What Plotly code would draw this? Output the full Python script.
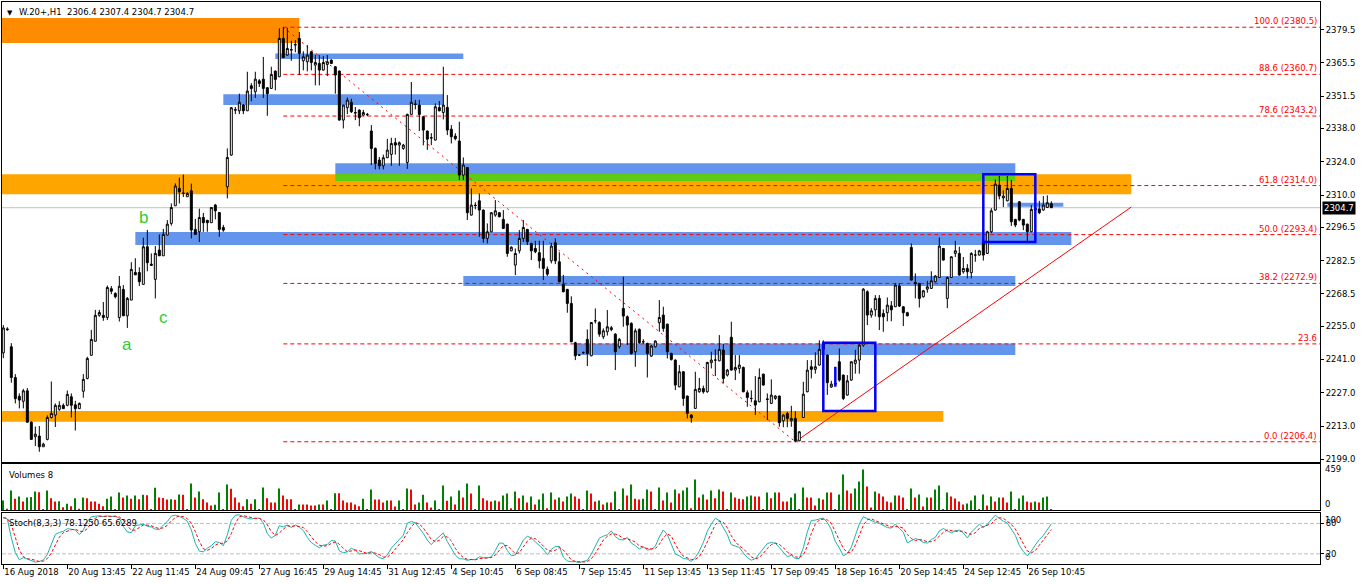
import plotly.graph_objects as go

# W.20+ H1 candles, bar 0 = 16 Aug 2018 15:45, one bar per hour 8:45-16:45
opens = [
    2243.7, 2253.8, 2246.3, 2233.4, 2225.5, 2223.4, 2227.8, 2214.6, 2208.5, 2208.8,
    2204.3, 2207.4, 2216.6, 2217.6, 2220.0, 2221.7, 2221.7, 2225.3, 2221.9, 2220.3,
    2227.6, 2233.0, 2242.7, 2248.6, 2259.5, 2259.5, 2258.6, 2270.7, 2268.7, 2258.6,
    2270.4, 2259.3, 2265.9, 2277.5, 2277.5, 2272.5, 2288.3, 2281.0, 2274.6, 2286.9,
    2284.5, 2293.2, 2298.1, 2305.5, 2312.8, 2310.9, 2309.3, 2311.8, 2295.6, 2294.6,
    2300.6, 2299.4, 2298.4, 2305.8, 2302.7, 2296.4, 2313.5, 2326.8, 2345.9, 2345.4,
    2347.8, 2345.4, 2355.9, 2353.4, 2358.0, 2358.7, 2355.1, 2354.8, 2362.1, 2359.7,
    2375.8, 2368.8, 2370.9, 2373.0, 2375.8, 2366.4, 2366.0, 2370.2, 2364.6, 2365.3,
    2362.5, 2364.9, 2366.7, 2363.9, 2362.1, 2341.5, 2346.7, 2349.0, 2344.7, 2345.7,
    2343.6, 2343.9, 2336.9, 2329.6, 2324.7, 2322.3, 2325.7, 2327.1, 2332.0, 2331.0,
    2329.6, 2323.7, 2343.9, 2348.3, 2347.8, 2342.9, 2336.9, 2334.1, 2333.1, 2346.8,
    2344.7, 2346.8, 2337.7, 2334.8, 2332.7, 2318.4, 2321.6, 2301.6, 2305.8, 2307.6,
    2303.7, 2291.8, 2294.6, 2301.6, 2302.6, 2299.8, 2297.8, 2286.6, 2280.6, 2286.6,
    2291.8, 2295.6, 2289.7, 2287.6, 2285.8, 2283.4, 2278.9, 2282.4, 2290.0, 2282.0,
    2272.6, 2270.4, 2264.5, 2248.0, 2242.8, 2243.8, 2249.4, 2242.5, 2257.2, 2256.5,
    2250.5, 2252.6, 2253.5, 2251.6, 2246.3, 2262.4, 2258.9, 2256.1, 2244.2, 2253.6,
    2248.4, 2247.7, 2242.4, 2246.3, 2256.4, 2259.6, 2255.8, 2243.5, 2240.7, 2229.5,
    2235.8, 2225.6, 2217.6, 2220.4, 2227.4, 2228.8, 2227.4, 2239.6, 2240.7, 2240.4,
    2244.9, 2234.4, 2250.3, 2236.5, 2237.2, 2237.6, 2227.0, 2224.6, 2223.6, 2223.2,
    2234.8, 2224.4, 2222.5, 2224.6, 2225.6, 2215.2, 2218.3, 2215.2, 2216.2, 2206.8,
    2216.6, 2227.4, 2237.9, 2236.8, 2238.6, 2245.2, 2242.8, 2229.4, 2231.0, 2240.0,
    2234.4, 2226.0, 2232.3, 2239.3, 2240.7, 2247.0, 2269.4, 2259.6, 2261.8, 2266.6,
    2260.3, 2260.6, 2263.5, 2263.1, 2271.8, 2263.1, 2260.6, 2288.0, 2273.3, 2272.9,
    2267.3, 2270.5, 2270.8, 2273.6, 2275.4, 2287.6, 2266.6, 2275.4, 2285.5, 2285.5,
    2277.8, 2279.2, 2277.4, 2284.8, 2284.8, 2290.0, 2285.5, 2294.6, 2303.7, 2314.2,
    2308.8, 2307.6, 2312.8, 2299.8, 2307.2, 2299.8, 2297.8, 2294.6, 2304.5, 2304.2,
    2303.7, 2304.8, 2306.4,
]
highs = [
    2255.4, 2254.5, 2247.8, 2234.8, 2226.7, 2228.6, 2229.0, 2215.0, 2212.8, 2213.0,
    2206.0, 2217.5, 2231.7, 2222.5, 2223.4, 2222.5, 2227.9, 2226.7, 2223.6, 2222.9,
    2234.8, 2242.1, 2253.4, 2261.8, 2261.8, 2265.1, 2272.0, 2271.8, 2269.2, 2276.0,
    2272.2, 2267.2, 2281.8, 2283.5, 2279.7, 2292.1, 2295.4, 2285.5, 2288.6, 2293.5,
    2295.8, 2299.5, 2306.5, 2314.9, 2317.3, 2318.6, 2311.3, 2314.8, 2300.0, 2304.3,
    2302.5, 2299.6, 2304.8, 2306.3, 2302.9, 2297.5, 2329.6, 2347.0, 2347.0, 2352.6,
    2348.2, 2361.8, 2357.0, 2361.8, 2358.7, 2368.0, 2355.3, 2363.9, 2362.3, 2380.0,
    2380.5, 2380.2, 2374.8, 2375.1, 2378.5, 2370.4, 2373.0, 2370.4, 2368.8, 2368.8,
    2368.4, 2368.8, 2367.0, 2364.1, 2362.3, 2347.8, 2351.0, 2350.5, 2347.0, 2346.0,
    2345.8, 2344.5, 2339.4, 2330.0, 2326.0, 2327.0, 2333.6, 2334.1, 2334.0, 2332.5,
    2331.5, 2344.2, 2357.5, 2350.0, 2350.0, 2343.1, 2337.1, 2336.0, 2348.5, 2349.5,
    2363.9, 2352.0, 2339.4, 2336.0, 2340.8, 2325.8, 2321.8, 2312.8, 2307.0, 2310.7,
    2303.9, 2298.1, 2302.8, 2307.9, 2302.8, 2303.7, 2298.0, 2288.5, 2287.6, 2295.3,
    2299.5, 2295.8, 2290.0, 2290.8, 2290.8, 2290.8, 2280.0, 2290.0, 2291.8, 2286.0,
    2276.5, 2270.6, 2267.5, 2248.4, 2243.2, 2244.3, 2253.6, 2256.7, 2262.4, 2257.0,
    2254.0, 2261.7, 2255.0, 2252.0, 2250.0, 2275.7, 2259.5, 2256.6, 2254.0, 2254.0,
    2249.5, 2248.0, 2247.0, 2249.0, 2265.9, 2263.1, 2256.0, 2243.8, 2241.0, 2238.6,
    2236.0, 2225.8, 2218.0, 2235.8, 2233.2, 2230.0, 2240.0, 2244.2, 2245.2, 2251.2,
    2247.5, 2237.0, 2256.8, 2242.8, 2242.8, 2238.0, 2228.0, 2228.0, 2234.0, 2237.2,
    2235.0, 2226.7, 2232.6, 2226.0, 2225.8, 2218.0, 2219.0, 2221.5, 2219.2, 2210.8,
    2231.6, 2240.7, 2240.7, 2244.0, 2249.0, 2249.0, 2243.0, 2232.0, 2231.5, 2245.6,
    2234.6, 2234.4, 2240.2, 2245.0, 2248.0, 2270.9, 2270.0, 2262.5, 2268.0, 2268.0,
    2262.0, 2267.0, 2265.5, 2273.0, 2273.0, 2263.3, 2261.0, 2289.7, 2277.1, 2273.1,
    2270.2, 2274.0, 2278.0, 2276.4, 2292.2, 2287.8, 2275.8, 2284.3, 2290.8, 2288.3,
    2284.0, 2281.0, 2286.0, 2287.0, 2287.0, 2291.5, 2295.0, 2304.5, 2316.5, 2318.0,
    2312.0, 2318.0, 2316.3, 2300.0, 2307.4, 2300.0, 2298.0, 2305.8, 2307.0, 2307.6,
    2309.6, 2309.9, 2307.4,
]
lows = [
    2241.5, 2253.0, 2231.2, 2222.5, 2220.4, 2220.4, 2214.6, 2207.2, 2204.6, 2202.2,
    2204.3, 2207.0, 2216.2, 2212.6, 2219.4, 2220.3, 2221.3, 2216.6, 2211.1, 2220.3,
    2224.9, 2232.6, 2242.7, 2248.6, 2258.9, 2257.2, 2257.5, 2268.4, 2266.6, 2256.9,
    2259.3, 2254.2, 2265.9, 2276.5, 2271.8, 2272.5, 2278.0, 2280.5, 2266.6, 2284.5,
    2284.5, 2293.2, 2297.2, 2305.5, 2306.5, 2309.2, 2309.3, 2291.8, 2293.5, 2290.3,
    2294.6, 2294.6, 2298.4, 2299.8, 2292.5, 2294.6, 2308.6, 2326.5, 2344.0, 2344.0,
    2344.0, 2345.4, 2349.4, 2350.8, 2355.4, 2350.8, 2343.3, 2354.8, 2354.0, 2359.7,
    2367.5, 2368.5, 2366.4, 2370.0, 2360.4, 2362.4, 2362.0, 2362.4, 2356.1, 2356.1,
    2362.3, 2360.0, 2365.0, 2352.6, 2341.3, 2338.0, 2344.0, 2344.5, 2341.5, 2338.9,
    2343.3, 2343.2, 2322.6, 2320.8, 2320.8, 2320.8, 2325.5, 2322.3, 2327.0, 2322.3,
    2329.0, 2321.0, 2343.9, 2346.0, 2336.9, 2330.9, 2329.0, 2331.0, 2333.0, 2345.2,
    2341.8, 2335.2, 2331.7, 2333.0, 2316.3, 2316.3, 2299.5, 2301.4, 2304.0, 2292.5,
    2290.0, 2289.7, 2294.4, 2300.9, 2300.7, 2295.8, 2284.1, 2286.4, 2276.4, 2285.5,
    2290.4, 2289.0, 2282.7, 2285.6, 2279.2, 2274.3, 2276.0, 2281.3, 2281.0, 2273.4,
    2269.2, 2260.6, 2248.2, 2240.7, 2242.4, 2243.3, 2238.2, 2242.3, 2256.1, 2250.5,
    2249.5, 2251.0, 2252.8, 2236.5, 2245.5, 2254.7, 2247.0, 2243.0, 2237.9, 2247.5,
    2247.5, 2233.4, 2242.0, 2246.0, 2252.6, 2252.6, 2241.4, 2240.5, 2228.1, 2229.3,
    2221.5, 2216.2, 2214.4, 2220.2, 2227.0, 2226.6, 2227.0, 2237.2, 2234.0, 2240.2,
    2230.9, 2233.8, 2236.3, 2232.3, 2235.1, 2227.2, 2221.1, 2223.0, 2217.6, 2223.0,
    2230.0, 2215.5, 2222.3, 2224.0, 2212.7, 2212.5, 2212.5, 2212.7, 2206.4, 2206.6,
    2216.4, 2227.2, 2233.0, 2235.0, 2238.4, 2243.0, 2226.1, 2229.0, 2230.2, 2231.6,
    2223.9, 2225.8, 2232.0, 2235.0, 2235.0, 2246.3, 2255.4, 2258.5, 2259.0, 2253.3,
    2252.6, 2257.0, 2257.0, 2263.0, 2263.0, 2255.0, 2259.1, 2274.1, 2266.6, 2262.8,
    2267.0, 2269.0, 2270.6, 2273.4, 2275.2, 2282.5, 2262.5, 2275.2, 2284.0, 2276.2,
    2277.0, 2275.0, 2275.0, 2282.0, 2284.6, 2282.5, 2285.3, 2294.0, 2303.5, 2308.2,
    2305.0, 2307.4, 2297.0, 2296.5, 2299.0, 2295.3, 2290.4, 2294.4, 2292.5, 2302.0,
    2303.5, 2304.6, 2304.7,
]
closes = [
    2254.2, 2253.5, 2233.4, 2224.5, 2223.9, 2227.8, 2214.6, 2207.4, 2209.6, 2204.3,
    2205.4, 2216.6, 2218.3, 2221.7, 2221.7, 2220.3, 2226.3, 2221.7, 2220.3, 2222.5,
    2232.6, 2241.4, 2249.4, 2259.5, 2260.7, 2258.6, 2271.2, 2269.6, 2267.3, 2271.7,
    2259.3, 2266.6, 2278.8, 2276.5, 2273.6, 2288.3, 2281.6, 2280.5, 2285.5, 2284.5,
    2293.5, 2297.8, 2304.8, 2313.8, 2311.4, 2310.7, 2310.7, 2295.3, 2293.5, 2300.6,
    2298.4, 2298.4, 2304.8, 2303.4, 2295.6, 2295.3, 2325.8, 2346.7, 2345.7, 2349.0,
    2345.4, 2353.7, 2354.8, 2358.7, 2356.9, 2354.8, 2352.6, 2360.7, 2358.6, 2375.8,
    2367.8, 2371.6, 2371.1, 2373.2, 2369.5, 2368.1, 2368.8, 2365.7, 2365.7, 2362.5,
    2365.7, 2366.0, 2365.3, 2360.4, 2341.5, 2347.8, 2349.9, 2345.0, 2344.5, 2342.5,
    2344.7, 2343.8, 2329.6, 2323.3, 2322.3, 2325.7, 2328.9, 2331.7, 2331.0, 2332.0,
    2331.0, 2343.9, 2349.0, 2348.1, 2343.9, 2337.3, 2333.5, 2334.0, 2347.1, 2345.4,
    2347.8, 2337.3, 2334.5, 2333.7, 2318.4, 2322.6, 2302.6, 2305.8, 2305.6, 2303.7,
    2291.8, 2294.6, 2302.6, 2303.4, 2300.9, 2296.0, 2285.5, 2288.1, 2285.5, 2291.8,
    2296.4, 2290.4, 2286.6, 2286.2, 2282.4, 2279.2, 2276.8, 2288.6, 2282.4, 2273.6,
    2269.4, 2264.5, 2248.4, 2242.5, 2242.8, 2243.8, 2243.5, 2256.5, 2257.2, 2251.6,
    2253.0, 2254.7, 2254.3, 2244.2, 2249.4, 2259.2, 2255.4, 2243.5, 2253.0, 2248.0,
    2248.4, 2243.5, 2246.6, 2248.7, 2258.6, 2254.0, 2244.2, 2241.0, 2230.2, 2235.8,
    2224.6, 2218.3, 2216.5, 2228.4, 2228.8, 2227.4, 2239.7, 2240.7, 2240.7, 2245.2,
    2233.0, 2236.5, 2236.5, 2237.6, 2238.6, 2227.4, 2225.0, 2224.6, 2221.8, 2233.4,
    2230.2, 2224.2, 2226.0, 2225.6, 2214.4, 2217.6, 2216.2, 2216.2, 2206.8, 2210.6,
    2226.4, 2236.5, 2236.8, 2237.9, 2245.2, 2247.5, 2231.2, 2230.6, 2230.6, 2232.3,
    2224.6, 2232.0, 2240.0, 2240.7, 2247.0, 2270.5, 2259.6, 2261.4, 2266.6, 2258.9,
    2258.9, 2263.8, 2261.8, 2272.2, 2263.4, 2260.6, 2259.3, 2274.3, 2272.8, 2266.6,
    2269.8, 2271.5, 2274.0, 2276.0, 2288.6, 2282.7, 2275.4, 2284.1, 2286.6, 2276.4,
    2279.2, 2277.8, 2285.5, 2284.8, 2286.6, 2284.8, 2294.6, 2303.4, 2314.6, 2309.6,
    2309.6, 2312.8, 2298.8, 2297.4, 2299.5, 2297.4, 2294.6, 2304.0, 2303.7, 2302.6,
    2305.8, 2306.8, 2304.7,
]
volumes = [
    112, 19, 224, 131, 157, 101, 145, 150, 213, 205,
    11, 224, 138, 101, 104, 37, 75, 48, 138, 19,
    145, 138, 101, 100, 75, 48, 131, 157, 11, 201,
    145, 168, 131, 168, 127, 175, 170, 11, 254, 145,
    140, 123, 125, 120, 179, 175, 11, 302, 145, 213,
    127, 90, 56, 63, 201, 11, 291, 242, 145, 90,
    48, 127, 75, 127, 11, 257, 138, 90, 90, 246,
    168, 127, 127, 11, 67, 67, 67, 56, 56, 67,
    67, 112, 11, 194, 194, 112, 90, 90, 67, 48,
    131, 11, 235, 123, 123, 90, 112, 112, 45, 112,
    11, 246, 235, 67, 90, 175, 90, 34, 112, 11,
    280, 108, 157, 67, 224, 145, 302, 190, 11, 280,
    138, 112, 101, 112, 101, 168, 190, 26, 213, 138,
    168, 90, 157, 67, 123, 190, 26, 201, 123, 145,
    101, 157, 190, 157, 131, 11, 224, 190, 101, 112,
    67, 90, 90, 213, 11, 246, 168, 291, 131, 123,
    131, 235, 213, 11, 257, 112, 201, 90, 235, 190,
    224, 257, 26, 347, 145, 179, 123, 224, 138, 235,
    213, 11, 201, 145, 131, 127, 157, 168, 157, 157,
    11, 201, 138, 201, 201, 101, 101, 145, 190, 11,
    257, 145, 145, 56, 138, 123, 201, 201, 11, 179,
    403, 224, 190, 246, 325, 459, 269, 34, 213, 190,
    157, 101, 90, 168, 168, 145, 11, 246, 145, 179,
    45, 145, 145, 235, 280, 11, 201, 157, 134, 101,
    67, 78, 112, 168, 11, 179, 56, 157, 101, 145,
    145, 90, 213, 11, 134, 168, 101, 90, 101, 90,
    145, 157, 8,
]

date_labels = ["16 Aug 2018", "20 Aug 13:45", "22 Aug 11:45", "24 Aug 09:45", "27 Aug 16:45",
               "29 Aug 14:45", "31 Aug 12:45", "4 Sep 10:45", "6 Sep 08:45", "7 Sep 15:45",
               "11 Sep 13:45", "13 Sep 11:45", "17 Sep 09:45", "18 Sep 16:45", "20 Sep 14:45",
               "24 Sep 12:45", "26 Sep 10:45"]
price_ticks = [2379.5, 2365.5, 2351.5, 2338.0, 2324.0, 2310.0, 2296.5, 2282.5, 2268.5,
               2255.0, 2241.0, 2227.0, 2213.0, 2199.0]

# fibo retracement, drawn from the high bar to the low bar
fib_ratio = [100.0, 88.6, 78.6, 61.8, 50.0, 38.2, 23.6, 0.0]
fib_price = [2380.5, 2360.7, 2343.2, 2314.0, 2293.4, 2272.9, 2247.5, 2206.4]
fib_text = ["100.0 (2380.5)", "88.6 (2360.7)", "78.6 (2343.2)", "61.8 (2314.0)",
            "50.0 (2293.4)", "38.2 (2272.9)", "23.6", "0.0 (2206.4)"]
fib_bars = [70, 198]

# support line from the low
trend_bars = [198, 282]
trend_prices = [2206.4, 2305.0]

# zones (bar index / price)
zone_start = [-5, -5, 83, 83, 33, 68, 55, 115, 143, -5, 251]
zone_end = [74, 282, 253, 253, 267, 115, 110, 253, 253, 235, 265]
zone_low = [2373.9, 2310.4, 2315.9, 2318.9, 2289.0, 2367.2, 2347.8, 2271.8, 2242.8, 2214.8, 2305.1]
zone_high = [2384.4, 2318.8, 2318.9, 2323.4, 2294.5, 2369.5, 2352.4, 2276.0, 2247.7, 2219.3, 2306.8]

# blue frames
box_start = [205, 245]
box_end = [218, 258]
box_low = [2219.3, 2290.3]
box_high = [2248.0, 2318.8]
mark_bar = 208
mark_low, mark_high = 2229.5, 2237.9

wave_labels = ["a", "b", "c"]
wave_bars = [31, 35, 40]
wave_prices = [2247.4, 2300.4, 2258.5]

# ---- indicators ----
n = len(closes)
bars = list(range(n))

vol_colors = []
for i in range(n):
    if i == 0 or volumes[i] > volumes[i - 1]:
        vol_colors.append("#008000")
    else:
        vol_colors.append("#FF0000")

# Stoch(8,3,3)
num, den = [], []
for i in range(n):
    lo = min(lows[max(0, i - 7):i + 1])
    hi = max(highs[max(0, i - 7):i + 1])
    num.append(closes[i] - lo)
    den.append(hi - lo)
stoch_main = []
for i in range(n):
    a = sum(num[max(0, i - 2):i + 1])
    b = sum(den[max(0, i - 2):i + 1])
    stoch_main.append(100.0 * a / b if b else 50.0)
stoch_signal = []
for i in range(n):
    w = stoch_main[max(0, i - 2):i + 1]
    stoch_signal.append(sum(w) / len(w))

# ---- styling ----
FONT = "DejaVu Sans"
zone_colors = ["#FF8C00", "#FFA500", "#5ECC14", "#6495ED", "#6495ED", "#6495ED", "#6495ED",
               "#6495ED", "#6495ED", "#FFA500", "#6495ED"]
x_lo, x_hi = -0.33, 329.17

fig = go.Figure()
fig.add_trace(go.Candlestick(
    x=bars, open=opens, high=highs, low=lows, close=closes,
    increasing=dict(line=dict(color="black", width=1), fillcolor="white"),
    decreasing=dict(line=dict(color="black", width=1), fillcolor="black"),
    whiskerwidth=0, hoverinfo="skip", xaxis="x", yaxis="y"))

fig.add_trace(go.Bar(x=bars, y=volumes, width=0.3, marker=dict(color=vol_colors, line_width=0),
                     hoverinfo="skip", xaxis="x2", yaxis="y2"))

fig.add_trace(go.Scatter(x=bars, y=stoch_main, mode="lines", line=dict(color="#20B2AA", width=1),
                         hoverinfo="skip", xaxis="x3", yaxis="y3"))
fig.add_trace(go.Scatter(x=bars, y=stoch_signal, mode="lines",
                         line=dict(color="#FF0000", width=1, dash="3px,2px"),
                         hoverinfo="skip", xaxis="x3", yaxis="y3"))

shapes = []
for x0, x1, lo, hi, col in zip(zone_start, zone_end, zone_low, zone_high, zone_colors):
    shapes.append(dict(type="rect", xref="x", yref="y", x0=x0, x1=x1, y0=lo, y1=hi,
                       fillcolor=col, line_width=0, layer="below"))
shapes.append(dict(type="line", xref="x", yref="y", x0=x_lo - 1, x1=x_hi + 1, y0=closes[-1], y1=closes[-1],
                   line=dict(color="#C0C0C0", width=1), layer="below"))
for p in fib_price:
    shapes.append(dict(type="line", xref="x", yref="y", x0=fib_bars[0], x1=x_hi + 1, y0=p, y1=p,
                       line=dict(color="#FF0000", width=1, dash="4px,3px"), layer="below"))
shapes.append(dict(type="line", xref="x", yref="y", x0=fib_bars[0], x1=fib_bars[1],
                   y0=fib_price[0], y1=fib_price[-1],
                   line=dict(color="#FF0000", width=1, dash="2px,4px"), layer="below"))
shapes.append(dict(type="line", xref="x", yref="y", x0=trend_bars[0], x1=trend_bars[1],
                   y0=trend_prices[0], y1=trend_prices[1],
                   line=dict(color="#FF0000", width=1), layer="below"))
for x0, x1, lo, hi in zip(box_start, box_end, box_low, box_high):
    shapes.append(dict(type="rect", xref="x", yref="y", x0=x0, x1=x1, y0=lo, y1=hi,
                       line=dict(color="#0000FF", width=2.5), fillcolor="rgba(0,0,0,0)", layer="above"))
shapes.append(dict(type="line", xref="x", yref="y", x0=mark_bar, x1=mark_bar, y0=mark_low, y1=mark_high,
                   line=dict(color="#0000FF", width=2.5), layer="above"))
for lvl in (20, 80):
    shapes.append(dict(type="line", xref="paper", yref="y3", x0=0, x1=1, y0=lvl, y1=lvl,
                       line=dict(color="#C0C0C0", width=1, dash="4px,2px"), layer="below"))

ann = []
for p, t in zip(fib_price, fib_text):
    ann.append(dict(xref="paper", yref="y", x=1, y=p, text=t, xanchor="right", yanchor="bottom",
                    xshift=-1, yshift=-1, showarrow=False, font=dict(family=FONT, size=8.5, color="#FF0000")))
for t, b, p in zip(wave_labels, wave_bars, wave_prices):
    ann.append(dict(xref="x", yref="y", x=b, y=p, text=t, showarrow=False,
                    font=dict(family="Liberation Sans", size=17, color="#32CD32")))
ann.append(dict(xref="paper", yref="y", x=1, y=closes[-1], text="%.1f" % closes[-1], xanchor="left",
                xshift=2, showarrow=False, bgcolor="black", borderpad=1,
                font=dict(family=FONT, size=8.5, color="white")))
header = "W.20+,H1  %.1f %.1f %.1f %.1f" % (opens[-1], highs[-1], lows[-1], closes[-1])
ann.append(dict(xref="paper", yref="y domain", x=0, y=1, text="\u25bc", xanchor="left", yanchor="top",
                xshift=3, yshift=-5, showarrow=False, font=dict(family=FONT, size=7, color="black")))
ann.append(dict(xref="paper", yref="y domain", x=0, y=1, text=header, xanchor="left", yanchor="top",
                xshift=15, yshift=-3, showarrow=False, font=dict(family=FONT, size=8.5, color="black")))
ann.append(dict(xref="paper", yref="y2 domain", x=0, y=1, text="Volumes %d" % volumes[-1],
                xanchor="left", yanchor="top", xshift=5, yshift=-4, showarrow=False,
                font=dict(family=FONT, size=8.5, color="black")))
ann.append(dict(xref="paper", yref="y3 domain", x=0, y=1, text="Stoch(8,3,3) 78.1250 65.6289",
                xanchor="left", yanchor="top", xshift=5, yshift=-3, showarrow=False,
                font=dict(family=FONT, size=8.5, color="black")))
for t, yv, anc in (("459", 459, "middle"), ("0", 0, "bottom")):
    ann.append(dict(xref="paper", yref="y2", x=1, y=yv, text=t, xanchor="left", yanchor=anc,
                    xshift=3, showarrow=False, font=dict(family=FONT, size=8.5, color="black")))
for t, yv, anc in (("100", 100, "top"), ("0", 0, "bottom")):
    ann.append(dict(xref="paper", yref="y3", x=1, y=yv, text=t, xanchor="left", yanchor=anc,
                    xshift=3, showarrow=False, font=dict(family=FONT, size=8.5, color="black")))

frame = dict(showline=True, linecolor="black", linewidth=1, mirror=True, showgrid=False, zeroline=False)
tickfont = dict(family=FONT, size=8.5, color="black")

fig.update_layout(
    width=1362, height=585,
    margin=dict(l=2, r=42, t=2, b=21),
    paper_bgcolor="white", plot_bgcolor="white",
    showlegend=False, shapes=shapes, annotations=ann, boxgap=0.3,
    xaxis=dict(domain=[0, 1], range=[x_lo, x_hi], anchor="y", showticklabels=False, ticks="",
               rangeslider=dict(visible=False), **frame),
    xaxis2=dict(domain=[0, 1], matches="x", anchor="y2", showticklabels=False, ticks="", **frame),
    xaxis3=dict(domain=[0, 1], matches="x", anchor="y3", tickmode="array",
                tickvals=list(range(0, n, 16)), ticktext=date_labels, ticks="outside", ticklen=4,
                tickcolor="black", tickangle=0, ticklabelposition="outside right",
                tickfont=tickfont, **frame),
    yaxis=dict(domain=[0.1815, 1], range=[2197.9, 2391.1], side="right", anchor="x",
               tickmode="array", tickvals=price_ticks, ticktext=["%.1f" % v for v in price_ticks],
               ticks="outside", ticklen=3, tickcolor="black", tickfont=tickfont, **frame),
    yaxis2=dict(domain=[0.0952, 0.1779], range=[0, 520], side="right", anchor="x2",
                showticklabels=False, ticks="", **frame),
    yaxis3=dict(domain=[0, 0.0902], range=[0, 100], side="right", anchor="x3",
                tickmode="array", tickvals=[20, 80], ticktext=["20", "80"], ticks="outside",
                ticklen=3, tickcolor="black", tickfont=tickfont, **frame),
)

# the page is photographed at exactly the figure size, so drop the default body margin
fig.write_html("out.html", config={"displayModeBar": False},
               post_script="document.body.style.margin='0';")
